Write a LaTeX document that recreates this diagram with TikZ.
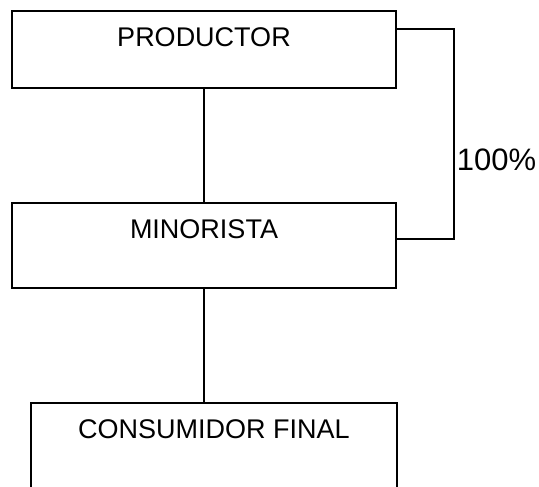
\documentclass[tikz,border=0pt]{standalone}
\usepackage{fontspec}
\setmainfont{Liberation Sans}
\usepackage{tikz}
\usetikzlibrary{positioning}

\begin{document}
\begin{tikzpicture}[x=1pt,y=-1pt,line width=1.6pt,
      caja/.style={draw,rectangle,anchor=north,inner ysep=0pt,
        text height=36pt,font=\fontsize{27}{30}\selectfont}]
      \useasboundingbox (0,0) rectangle (539,487);
      \clip (0,0) rectangle (539,487);

      \node[caja,minimum width=384pt,text depth=41pt] (prod) at (204,10) {PRODUCTOR};
      \node[caja,minimum width=384pt,text depth=49pt] (mino) at (204,202) {MINORISTA};
      \node[caja,minimum width=366pt,text depth=70pt] (cons) at (214,402) {CONSUMIDOR FINAL};

      \draw (prod.south) -- (prod.south |- mino.north);
      \draw (mino.south) -- (mino.south |- cons.north);

      \coordinate (codo) at (454,29);
      \draw (prod.east |- codo) -- (codo) -- (codo |- 0,239) -- (mino.east |- 0,239);
      \node[anchor=west,inner sep=0pt,font=\fontsize{31}{34}\selectfont] (pct) at (456,160) {100\%};
    \end{tikzpicture}
\end{document}
